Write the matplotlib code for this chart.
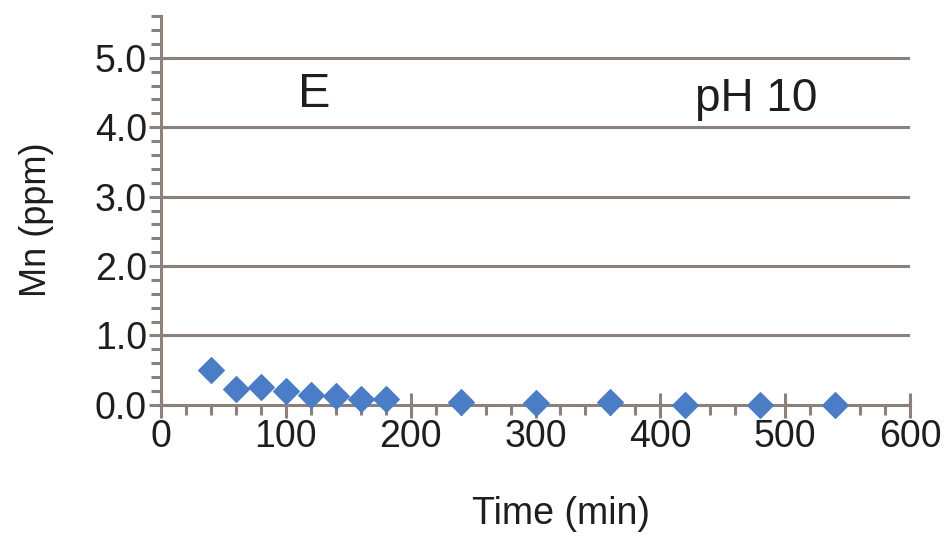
import numpy as np
import matplotlib.pyplot as plt
from matplotlib.ticker import MultipleLocator

plt.rcParams['font.family'] = ['Liberation Sans', 'DejaVu Sans']

# Mn concentration over time at pH 10
time_min = [40, 60, 80, 100, 120, 140, 160, 180, 240, 300, 360, 420, 480, 540]
mn_ppm = [0.50, 0.23, 0.26, 0.20, 0.14, 0.13, 0.09, 0.08, 0.04, 0.03, 0.04, 0.0, 0.0, 0.0]
y_ticks = [0.0, 1.0, 2.0, 3.0, 4.0, 5.0]
x_ticks = [0, 100, 200, 300, 400, 500, 600]

axis_col = '#8c807b'
mark_col = '#4a7dc6'
text_col = '#1e1e1e'

fig = plt.figure(figsize=(9.47, 5.37), dpi=100)
ax = fig.add_axes([0.170, 0.246, 0.791, 0.724])

for yv in y_ticks[1:]:
    ax.axhline(yv, color=axis_col, lw=2.2, zorder=1)

ax.scatter(time_min, mn_ppm, marker='D', s=170, color=mark_col, zorder=3, clip_on=False)

ax.set_xlim(0, 600)
ax.set_ylim(0, 5.6)
ax.set_xticks(x_ticks)
ax.set_yticks(y_ticks)
ax.set_yticklabels([f'{v:.1f}' for v in y_ticks])
ax.xaxis.set_minor_locator(MultipleLocator(20))
ax.yaxis.set_minor_locator(MultipleLocator(0.2))

for s in ['top', 'right']:
    ax.spines[s].set_visible(False)
for s in ['left', 'bottom']:
    ax.spines[s].set_color(axis_col)
    ax.spines[s].set_linewidth(2.2)

ax.tick_params(which='major', direction='inout', length=18, width=2.2, color=axis_col,
               labelsize=27, labelcolor=text_col, pad=1)
ax.tick_params(which='minor', direction='out', length=7, width=2.2, color=axis_col)

ax.set_xlabel('Time (min)', fontsize=27, color=text_col)
ax.xaxis.set_label_coords(0.534, -0.235)
ax.set_ylabel('Mn (ppm)', fontsize=26, color=text_col)
ax.yaxis.set_label_coords(-0.143, 0.476)

ax.text(123, 4.47, 'E', fontsize=35, color=text_col, ha='center', va='center')
ax.text(477, 4.4, 'pH 10', fontsize=33, color=text_col, ha='center', va='center')

fig.savefig('out.png', dpi=100)
